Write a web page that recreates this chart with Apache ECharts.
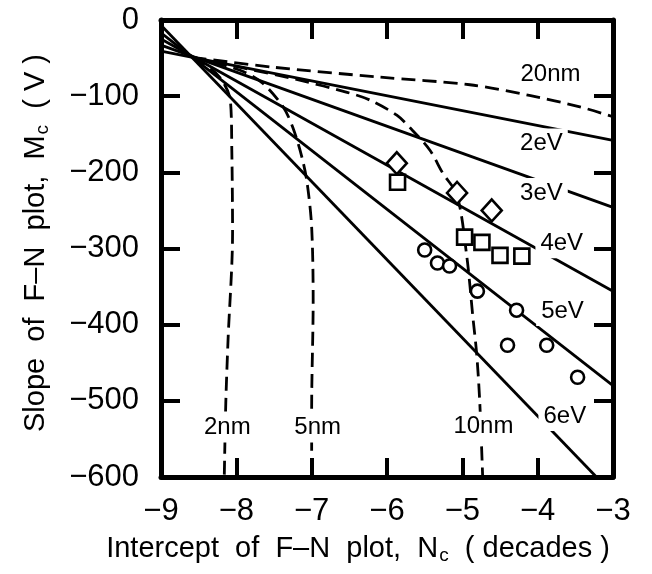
<!DOCTYPE html>
<html>
<head>
<meta charset="utf-8">
<script src="https://cdn.jsdelivr.net/npm/echarts@6/dist/echarts.min.js"></script>
<style>
  html, body { margin: 0; padding: 0; background: #fff; }
  #chart { width: 652px; height: 574px; }
</style>
</head>
<body>
<div id="chart"></div>
<script>
// axis ranges
var xTicks = [-9, -8, -7, -6, -5, -4, -3]
var yTicks = [0, -100, -200, -300, -400, -500, -600]

// work function lines (solid), [N_c, M_c]
var line2eV = [[-9, -41], [-3, -158]]
var line3eV = [[-9, -33], [-3, -246]]
var line4eV = [[-9, -25], [-3, -356]]
var line5eV = [[-9, -17], [-3, -480]]
var line6eV = [[-9, -7], [-3.22, -600]]

// thickness curves (dashed)
var curve2nm = [[-8.58, -49], [-8.35, -63], [-8.19, -79], [-8.08, -105], [-8.06, -171], [-8.05, -280], [-8.11, -420], [-8.14, -503], [-8.16, -600]]
var curve5nm = [[-8.58, -49], [-7.95, -66], [-7.65, -83], [-7.38, -114], [-7.25, -141], [-7.13, -180], [-7.06, -214], [-7.0, -272], [-6.98, -368], [-7.0, -509], [-7.0, -600]]
var curve10nm = [[-8.58, -49], [-7.16, -79], [-6.53, -95], [-6.23, -105], [-5.87, -125], [-5.66, -145], [-5.43, -171], [-5.26, -201], [-5.07, -230], [-4.94, -311], [-4.86, -390], [-4.81, -438], [-4.77, -499], [-4.73, -600]]
var curve20nm = [[-8.58, -49], [-7.51, -62], [-6.10, -75], [-4.90, -85], [-4.11, -99], [-3.44, -114], [-3.0, -127]]

// measured points
var diamonds = [[-5.87, -188], [-5.07, -227], [-4.61, -250]]
var squares = [[-5.86, -213], [-4.97, -285], [-4.74, -292], [-4.50, -309], [-4.21, -310]]
var circles = [[-5.50, -302], [-5.33, -319], [-5.17, -323], [-4.80, -356], [-4.28, -381], [-4.40, -427], [-3.88, -427], [-3.47, -469]]

// curve labels [N_c, M_c, text]
var curveLabels = [
    [-3.83, -71, '20nm'],
    [-3.95, -162, '2eV'],
    [-3.95, -227, '3eV'],
    [-3.68, -293, '4eV'],
    [-3.67, -382, '5eV'],
    [-3.64, -520, '6eV'],
    [-8.12, -535, '2nm'],
    [-6.92, -535, '5nm'],
    [-4.72, -534, '10nm']
]

var FONT = 'Liberation Sans, Arial, Helvetica, sans-serif'
var minus = function (v) { return String(v).replace('-', '\u2212') }

var frameAxis = {
    axisLine: { show: true, onZero: false, lineStyle: { color: '#000', width: 5 } },
    axisTick: { show: true, inside: true, length: 19, lineStyle: { color: '#000', width: 4 } },
    splitLine: { show: false }
}

function solid(name, data) {
    return {
        name: name, type: 'line', data: data, showSymbol: false, symbol: 'none',
        lineStyle: { color: '#000', width: 2.8 }, silent: true, z: 2
    }
}
function dashed(name, data) {
    return {
        name: name, type: 'line', data: data, showSymbol: false, symbol: 'none', smooth: 0.3,
        lineStyle: { color: '#000', width: 2.8, type: [14, 7] }, silent: true, z: 2
    }
}
function marks(name, symbol, size, data) {
    return {
        name: name, type: 'scatter', data: data, symbol: symbol, symbolSize: size,
        itemStyle: { color: '#fff', borderColor: '#000', borderWidth: 2.6, opacity: 1 }, z: 4
    }
}

var chart = echarts.init(document.getElementById('chart'))
chart.setOption({
    animation: false,
    backgroundColor: '#fff',
    textStyle: { fontFamily: FONT, color: '#000' },
    grid: { left: 161, top: 20, right: 39, bottom: 97, containLabel: false },
    xAxis: [
        Object.assign({
            type: 'value', position: 'bottom', min: xTicks[0], max: xTicks[xTicks.length - 1], interval: 1,
            axisLabel: { show: true, margin: 19, fontSize: 31, color: '#000', fontFamily: FONT, formatter: minus }
        }, frameAxis),
        Object.assign({
            type: 'value', position: 'top', min: xTicks[0], max: xTicks[xTicks.length - 1], interval: 1,
            axisLabel: { show: false }
        }, frameAxis)
    ],
    yAxis: [
        Object.assign({
            type: 'value', position: 'left', min: yTicks[yTicks.length - 1], max: yTicks[0], interval: 100,
            axisLabel: { show: true, margin: 22, fontSize: 31, color: '#000', fontFamily: FONT, formatter: minus }
        }, frameAxis),
        Object.assign({
            type: 'value', position: 'right', min: yTicks[yTicks.length - 1], max: yTicks[0], interval: 100,
            axisLabel: { show: false }
        }, frameAxis)
    ],
    graphic: [
        {
            type: 'text', x: 358, y: 549,
            style: {
                text: 'Intercept  of  F\u2013N  plot,  N{sub|c}  ( decades )',
                font: '29px ' + FONT, fill: '#000', textAlign: 'center', textVerticalAlign: 'middle',
                rich: { sub: { fontSize: 19, fontFamily: FONT, fill: '#000', padding: [13, 0, 0, 1] } }
            }
        },
        {
            type: 'text', x: 36, y: 243, rotation: Math.PI / 2,
            style: {
                text: 'Slope  of  F\u2013N  plot,  M{sub|c}  ( V )',
                font: '29px ' + FONT, fill: '#000', textAlign: 'center', textVerticalAlign: 'middle',
                rich: { sub: { fontSize: 19, fontFamily: FONT, fill: '#000', padding: [13, 0, 0, 1] } }
            }
        }
    ],
    series: [
        dashed('20nm', curve20nm),
        dashed('10nm', curve10nm),
        dashed('5nm', curve5nm),
        dashed('2nm', curve2nm),
        solid('2eV', line2eV),
        solid('3eV', line3eV),
        solid('4eV', line4eV),
        solid('5eV', line5eV),
        solid('6eV', line6eV),
        marks('diamond', 'diamond', [20, 22], diamonds),
        marks('square', 'rect', 15, squares),
        marks('circle', 'circle', 13, circles),
        {
            name: 'labels', type: 'custom', data: curveLabels, z: 6, silent: true,
            renderItem: function (params, api) {
                var p = api.coord([api.value(0), api.value(1)])
                return {
                    type: 'text', x: p[0], y: p[1], z2: 10,
                    style: {
                        text: curveLabels[params.dataIndex][2],
                        font: '24px ' + FONT, fill: '#000',
                        align: 'center', verticalAlign: 'middle',
                        backgroundColor: '#fff', padding: [3, 5]
                    }
                }
            }
        }
    ]
})
</script>
</body>
</html>
